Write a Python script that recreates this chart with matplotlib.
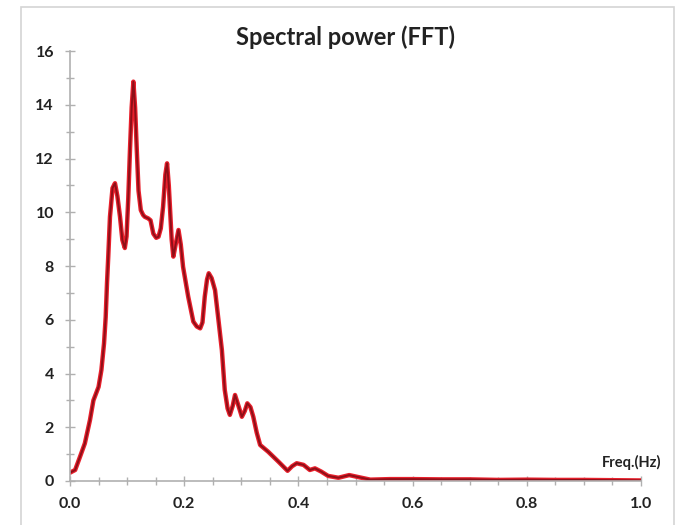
import matplotlib
matplotlib.use("Agg")
import matplotlib.pyplot as plt
from matplotlib.patches import Rectangle
from matplotlib.ticker import MultipleLocator

plt.rcParams['font.family'] = ['Lato', 'DejaVu Sans']

freq = [0.0, 0.009, 0.0175, 0.026, 0.035, 0.041, 0.05, 0.055, 0.0596, 0.0625, 0.0648, 0.067,
        0.07, 0.0745, 0.0788, 0.083, 0.0876, 0.0917, 0.096, 0.099, 0.102, 0.105, 0.108, 0.111,
        0.114, 0.117, 0.12, 0.124, 0.128, 0.131, 0.137, 0.141, 0.146, 0.151, 0.155, 0.159,
        0.163, 0.167, 0.170, 0.173, 0.175, 0.178, 0.181, 0.185, 0.190, 0.194, 0.198, 0.207,
        0.216, 0.222, 0.228, 0.232, 0.236, 0.24, 0.243, 0.248, 0.254, 0.26, 0.266, 0.271,
        0.276, 0.280, 0.285, 0.289, 0.295, 0.301, 0.306, 0.3105, 0.316, 0.321, 0.327, 0.333,
        0.347, 0.365, 0.381, 0.389, 0.397, 0.409, 0.42, 0.429, 0.44, 0.452, 0.47, 0.489,
        0.504, 0.526, 0.56, 0.6, 0.65, 0.7, 0.75, 0.8, 0.85, 0.9, 0.95, 1.0]
power = [0.31, 0.41, 0.9, 1.4, 2.27, 3.0, 3.5, 4.13, 5.12, 6.1, 7.36, 8.35,
         9.83, 10.9, 11.08, 10.6, 9.83, 8.97, 8.67, 9.1, 10.5, 12.3, 13.9, 14.86,
         13.9, 12.3, 10.8, 10.08, 9.9, 9.83, 9.77, 9.7, 9.2, 9.05, 9.09, 9.4,
         10.2, 11.4, 11.82, 11.0, 10.2, 9.0, 8.35, 8.8, 9.34, 8.8, 7.97, 6.86,
         5.93, 5.75, 5.68, 5.9, 6.86, 7.5, 7.73, 7.55, 7.1, 5.99, 4.87, 3.39,
         2.7, 2.46, 2.8, 3.2, 2.8, 2.39, 2.6, 2.89, 2.75, 2.39, 1.8, 1.34,
         1.09, 0.72, 0.38, 0.55, 0.66, 0.6, 0.41, 0.47, 0.35, 0.19, 0.12, 0.22,
         0.15, 0.05, 0.07, 0.07, 0.06, 0.06, 0.04, 0.05, 0.04, 0.04, 0.03, 0.02]

xticks = [0.0, 0.2, 0.4, 0.6, 0.8, 1.0]
xticklabels = ['0.0', '0.2', '0.4', '0.6', '0.8', '1.0']
yticks = [0, 2, 4, 6, 8, 10, 12, 14, 16]

fig = plt.figure(figsize=(6.77, 5.25), dpi=100)
fig.patches.append(Rectangle((21/677, -0.01), (674-21)/677, 1 - 7/525 + 0.01,
                             transform=fig.transFigure, fill=False,
                             edgecolor='#d4d4d4', linewidth=1.2))

ax = fig.add_axes([70/677, 1 - 481/525, 571/677, 430/525])
ax.plot(freq, power, color='#E8202C', lw=3.2, solid_joinstyle='round', solid_capstyle='round')
ax.plot(freq, power, color='#8E0F18', lw=1.4, solid_joinstyle='round', solid_capstyle='round')

ax.set_xlim(0, 1.0)
ax.set_ylim(0, 16)
ax.set_xticks(xticks)
ax.set_xticklabels(xticklabels)
ax.set_yticks(yticks)
ax.xaxis.set_minor_locator(MultipleLocator(0.05))
ax.yaxis.set_minor_locator(MultipleLocator(1))
ax.tick_params(which='both', direction='inout', color='#b0b0b0', width=1)
ax.tick_params(which='major', length=7, labelsize=11.5, pad=8)
ax.tick_params(which='minor', length=6)
for lab in ax.get_xticklabels() + ax.get_yticklabels():
    lab.set_fontweight('bold')
    lab.set_color('#222222')
for s in ['top', 'right']:
    ax.spines[s].set_visible(False)
for s in ['left', 'bottom']:
    ax.spines[s].set_color('#b0b0b0')
    ax.spines[s].set_linewidth(1.2)

fig.text(345/677, 1 - 37/525, 'Spectral power (FFT)', ha='center', va='center',
         fontsize=17, fontweight='bold', color='#222222')
fig.text(632/677, 1 - 462/525, 'Freq.(Hz)', ha='center', va='center',
         fontsize=10.5, fontweight='bold', color='#222222')

fig.savefig('out.png', dpi=100)
